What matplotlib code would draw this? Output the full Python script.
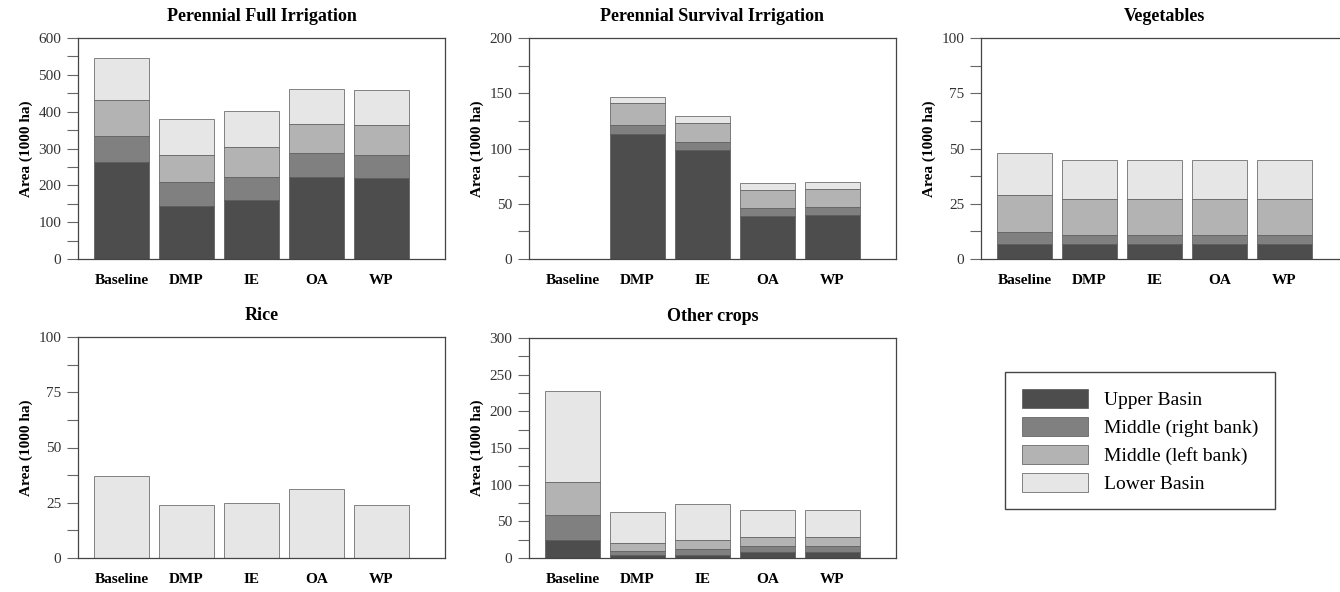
import numpy as np
import matplotlib
matplotlib.use("Agg")
import matplotlib.pyplot as plt
from matplotlib.patches import Patch

plt.rcParams['font.family'] = ['Liberation Serif', 'DejaVu Serif']

# Scenarios and regions
scenarios = ['Baseline', 'DMP', 'IE', 'OA', 'WP']
regions = ['Upper Basin', 'Middle (right bank)', 'Middle (left bank)', 'Lower Basin']
colors = ['#4d4d4d', '#808080', '#b3b3b3', '#e6e6e6']

# Areas in 1000 ha, per region (upper, right, left, lower)
full_upper = [262, 145, 160, 222, 220]
full_right = [73, 63, 62, 65, 63]
full_left = [98, 75, 81, 80, 81]
full_lower = [112, 97, 100, 95, 95]

surv_upper = [0, 113, 99, 39, 40]
surv_right = [0, 8, 7, 7, 7]
surv_left = [0, 20, 17, 16, 16]
surv_lower = [0, 6, 6, 7, 7]

veg_upper = [7, 7, 7, 7, 7]
veg_right = [5, 4, 4, 4, 4]
veg_left = [17, 16, 16, 16, 16]
veg_lower = [19, 18, 18, 18, 18]

rice_upper = [0, 0, 0, 0, 0]
rice_right = [0, 0, 0, 0, 0]
rice_left = [0, 0, 0, 0, 0]
rice_lower = [37, 24, 25, 31, 24]

other_upper = [24, 4, 4, 8, 8]
other_right = [35, 6, 8, 8, 8]
other_left = [45, 10, 12, 12, 12]
other_lower = [124, 43, 50, 38, 38]

W, H = 1340, 592
fig = plt.figure(figsize=(W / 100, H / 100), dpi=100)


def rect(l, r, t, b):
    return [l / W, 1 - b / H, (r - l) / W, (b - t) / H]


panels = [
    ('Perennial Full Irrigation', [full_upper, full_right, full_left, full_lower],
     600, 100, rect(78, 445, 38, 259)),
    ('Perennial Survival Irrigation', [surv_upper, surv_right, surv_left, surv_lower],
     200, 50, rect(529, 896, 38, 259)),
    ('Vegetables', [veg_upper, veg_right, veg_left, veg_lower],
     100, 25, rect(981, 1348, 38, 259)),
    ('Rice', [rice_upper, rice_right, rice_left, rice_lower],
     100, 25, rect(78, 445, 337, 558)),
    ('Other crops', [other_upper, other_right, other_left, other_lower],
     300, 50, rect(529, 896, 338, 558)),
]

x = np.arange(len(scenarios))
for title, series, ymax, step, pos in panels:
    ax = fig.add_axes(pos)
    bottom = np.zeros(len(scenarios))
    for vals, c in zip(series, colors):
        vals = np.array(vals, dtype=float)
        mask = vals > 0
        ax.bar(x[mask], vals[mask], 0.85, bottom=bottom[mask], color=c,
               edgecolor='#555555', linewidth=0.5)
        bottom += vals
    ax.set_xlim(-0.67, 4.98)
    ax.set_ylim(0, ymax)
    ax.set_yticks(np.arange(0, ymax + 1, step))
    ax.set_yticks(np.arange(step / 2, ymax, step), minor=True)
    ax.set_xticks(x)
    ax.set_xticklabels(scenarios, fontweight='bold', fontsize=11)
    ax.tick_params(axis='x', length=0, pad=11)
    ax.tick_params(axis='y', which='both', length=8, width=0.8, color='#666666',
                   labelsize=11, labelcolor='#333333', pad=4)
    ax.set_ylabel('Area (1000 ha)', fontweight='bold', fontsize=11, labelpad=4)
    ax.set_title(title, fontweight='bold', fontsize=13, pad=12)
    for s in ax.spines.values():
        s.set_color('#444444')
        s.set_linewidth(0.9)

handles = [Patch(facecolor=c, edgecolor='#555555', linewidth=0.5) for c in colors]
fig.legend(handles, regions, loc='upper left',
           bbox_to_anchor=(1005 / W, 1 - 372 / H), borderaxespad=0,
           fontsize=14, handlelength=3.4, handleheight=1.15, handletextpad=0.85,
           labelspacing=0.4, borderpad=0.85, fancybox=False,
           edgecolor='#444444', framealpha=1)

fig.savefig('out.png', dpi=100)
